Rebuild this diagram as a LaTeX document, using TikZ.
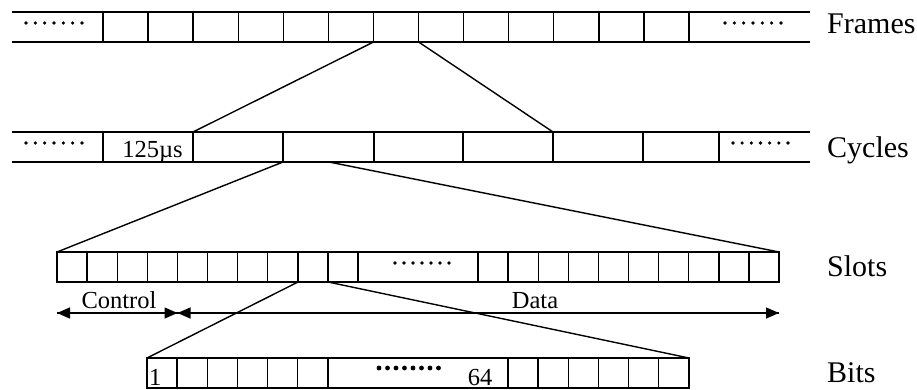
\documentclass[tikz,border=0pt]{standalone}
\usepackage{fontspec}
\setmainfont{Liberation Serif}
\usetikzlibrary{arrows.meta}
\tikzset{
  ln/.style={line width=1.4pt, draw=black},
  bigl/.style={anchor=base west, inner sep=0pt, font=\fontsize{30}{34}\selectfont},
  smalll/.style={anchor=base, inner sep=0pt, font=\fontsize{24.5}{28}\selectfont},
  dotsm/.style={fill=black, draw=none},
  arr/.style={line width=1.4pt, -{Triangle[length=13pt,width=11pt]}}
}
\begin{document}
\begin{tikzpicture}[x=1pt,y=-1pt]
\useasboundingbox (0,0) rectangle (917,389);
% ---------- Frames ----------
\draw[ln] (12,12) -- (810,12) (12,42) -- (810,42);
\foreach \i in {0,...,13} \draw[ln] ({103+45.077*\i},12) -- ++(0,30);
\foreach \i in {0,...,6} {
  \fill[dotsm] ({26+9.33*\i},23) circle (1.8);
  \fill[dotsm] ({725+9.33*\i},23) circle (1.8);
}
\coordinate (fL) at (373.5,42);
\coordinate (fR) at (418.6,42);
\node[bigl] (frames) at (827,33) {Frames};
% ---------- Cycles ----------
\draw[ln] (12,132) -- (810,132) (12,162) -- (810,162);
\foreach \x in {103,193,283,374,463,553,643,719} \draw[ln] (\x,132) -- ++(0,30);
\foreach \i in {0,...,6} {
  \fill[dotsm] ({26+9.33*\i},143) circle (1.8);
  \fill[dotsm] ({733+9.17*\i},143) circle (1.8);
}
\node[smalll] (us) at (152.5,157) {125µs};
\coordinate (cL) at (193,132);
\coordinate (cR) at (553,132);
\coordinate (cbL) at (283,162);
\coordinate (cbR) at (329,162);
\node[bigl] (cycles) at (827,157) {Cycles};
% ---------- Slots ----------
\draw[ln] (57,252) rectangle (779,282);
\foreach \i in {1,...,10} \draw[ln] ({57+30.1*\i},252) -- ++(0,30);
\foreach \i in {0,...,9} \draw[ln] ({478+30.1*\i},252) -- ++(0,30);
\foreach \i in {0,...,6} \fill[dotsm] ({395+9*\i},263) circle (1.8);
\coordinate (sL) at (57,252);
\coordinate (sR) at (779,252);
\coordinate (sbL) at (298,282);
\coordinate (sbR) at (328,282);
\node[bigl] (slots) at (827,276) {Slots};
% Control / Data
\coordinate (ctlA) at (57,313);
\coordinate (ctlB) at (177.5,313);
\coordinate (datB) at (779,313);
\draw[arr] (ctlB) -- (ctlA);
\draw[arr] (ctlA) -- (ctlB);
\draw[arr] (ctlB) -- (datB);
\draw[arr] (datB) -- (ctlB);
\node[smalll] (ctl) at (119,308) {Control};
\node[smalll] (dat) at (535,308) {Data};
% ---------- Bits ----------
\draw[ln] (147,358) rectangle (689,388);
\foreach \i in {1,...,6} \draw[ln] ({147+30.15*\i},358) -- ++(0,30);
\foreach \i in {0,...,5} \draw[ln] ({508+30.15*\i},358) -- ++(0,30);
\foreach \i in {0,...,7} \fill[dotsm] ({379+8.5*\i},368) circle (2.4);
\node[smalll, anchor=base west] (one) at (149,385) {1};
\node[smalll] (sixfour) at (480,385) {64};
\coordinate (bL) at (147,358);
\coordinate (bR) at (689,358);
\node[bigl] (bits) at (827,382) {Bits};
% ---------- expansion lines ----------
\draw[ln] (fL) -- (cL);
\draw[ln] (fR) -- (cR);
\draw[ln] (cbL) -- (sL);
\draw[ln] (cbR) -- (sR);
\draw[ln] (sbL) -- (bL);
\draw[ln] (sbR) -- (bR);
\end{tikzpicture}
\end{document}
